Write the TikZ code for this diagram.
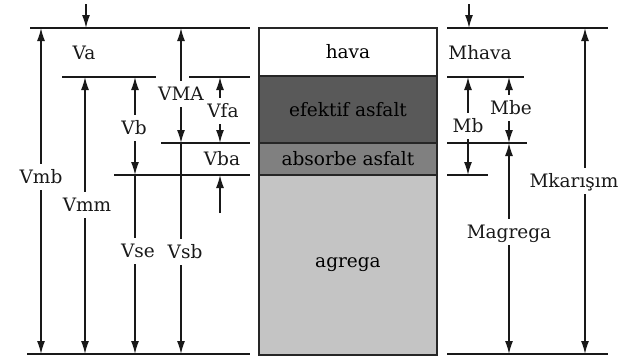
\documentclass[tikz,border=0pt]{standalone}
\usepackage{fontspec}
\setmainfont{DejaVu Serif}
\usetikzlibrary{arrows.meta}
\begin{document}
\begin{tikzpicture}[x=1pt,y=-1pt,
  ln/.style={line width=1.8pt, draw=black!90},
  dim/.style={line width=1.5pt, draw=black!90},
  tip/.style={-{Latex[length=13pt,width=8pt]}},
  lbl/.style={font=\fontsize{18.5}{20}\selectfont, inner sep=0pt, text height=13pt, text depth=0pt, minimum height=26pt, text=black!90},
  layer/.style={draw=black!85, line width=1.9pt, minimum width=178pt, font=\fontsize{18.5}{20}\selectfont, inner sep=0pt}]
\useasboundingbox (0,0) rectangle (633,359);

% ---------- layers ----------
\node[layer, fill=white, minimum height=48pt] (hava) at (348,52) {hava};
\node[layer, fill=black!65, minimum height=67pt] (efa) at (348,109.5) {efektif asfalt};
\node[layer, fill=black!50, minimum height=32pt] (aba) at (348,159) {absorbe asfalt};
\node[layer, fill=black!23, minimum height=180pt] (agr) at (348,265) {agrega};

% ---------- left horizontal lines ----------
\coordinate (h1a) at (30,28);  \coordinate (h1b) at (250,28);
\coordinate (h2a) at (62,77);  \coordinate (h2b) at (156,77);
\coordinate (h3a) at (189,77); \coordinate (h3b) at (250,77);
\coordinate (h4a) at (161,143);\coordinate (h4b) at (250,143);
\coordinate (h5a) at (114,175);\coordinate (h5b) at (250,175);
\coordinate (h6a) at (27,354); \coordinate (h6b) at (250,354);
\foreach \a/\b in {h1a/h1b,h2a/h2b,h3a/h3b,h4a/h4b,h5a/h5b,h6a/h6b}
  \draw[ln] (\a) -- (\b);

% ---------- right horizontal lines ----------
\coordinate (r1a) at (447,28);  \coordinate (r1b) at (608,28);
\coordinate (r2a) at (447,77);  \coordinate (r2b) at (524,77);
\coordinate (r3a) at (447,143); \coordinate (r3b) at (527,143);
\coordinate (r4a) at (447,175); \coordinate (r4b) at (488,175);
\coordinate (r5a) at (447,354); \coordinate (r5b) at (608,354);
\foreach \a/\b in {r1a/r1b,r2a/r2b,r3a/r3b,r4a/r4b,r5a/r5b}
  \draw[ln] (\a) -- (\b);

% ---------- top arrows ----------
\coordinate (tlA) at (86,4);  \coordinate (tlB) at (86,28);
\coordinate (trA) at (469,4); \coordinate (trB) at (469,28);
\draw[dim,tip] (tlA) -- (tlB);
\draw[dim,tip] (trA) -- (trB);

% ---------- left labels ----------
\node[lbl] (Va)  at (84,53)  {Va};
\node[lbl] (Vmb) at (41,177) {Vmb};
\node[lbl] (Vmm) at (87,205) {Vmm};
\node[lbl] (Vb)  at (134,128) {Vb};
\node[lbl] (Vse) at (138,251) {Vse};
\node[lbl] (VMA) at (181,94) {VMA};
\node[lbl] (Vsb) at (185,252) {Vsb};
\node[lbl] (Vfa) at (223,111) {Vfa};
\node[lbl] (Vba) at (222,159) {Vba};

% ---------- left dimension lines ----------
\coordinate (vmbT) at (41,28);  \coordinate (vmbB) at (41,354);
\draw[dim,tip] (Vmb.north -| vmbT) -- (vmbT);
\draw[dim,tip] (Vmb.south -| vmbT) -- (vmbB);

\coordinate (vmmT) at (85,77);  \coordinate (vmmB) at (85,354);
\draw[dim,tip] (Vmm.north -| vmmT) -- (vmmT);
\draw[dim,tip] (Vmm.south -| vmmT) -- (vmmB);

\coordinate (vbT) at (135,77);  \coordinate (vbB) at (135,175);
\draw[dim,tip] (Vb.north -| vbT) -- (vbT);
\draw[dim,tip] (Vb.south -| vbT) -- (vbB);

\coordinate (vseB) at (135,354);
\draw[dim] (vbB) -- (Vse.north -| vbB);
\draw[dim,tip] (Vse.south -| vbB) -- (vseB);

\coordinate (vmaT) at (181,28); \coordinate (vmaB) at (181,143);
\draw[dim,tip] (VMA.north -| vmaT) -- (vmaT);
\draw[dim,tip] (VMA.south -| vmaT) -- (vmaB);

\coordinate (vsbB) at (181,354);
\draw[dim] (vmaB) -- (Vsb.north -| vmaB);
\draw[dim,tip] (Vsb.south -| vmaB) -- (vsbB);

\coordinate (vfaT) at (220,77); \coordinate (vfaB) at (220,143);
\draw[dim,tip] (Vfa.north -| vfaT) -- (vfaT);
\draw[dim,tip] (Vfa.south -| vfaT) -- (vfaB);

\coordinate (vbaS) at (220,213); \coordinate (vbaE) at (220,175);
\draw[dim,tip] (vbaS) -- (vbaE);

% ---------- right labels ----------
\node[lbl] (Mhava) at (480,53) {Mhava};
\node[lbl] (Mb)    at (468,126) {Mb};
\node[lbl] (Mbe)   at (511,108) {Mbe};
\node[lbl] (Magr)  at (509,232) {Magrega};
\node[lbl] (Mkar)  at (574,181) {Mkarışım};

% ---------- right dimension lines ----------
\coordinate (mbT) at (468,77); \coordinate (mbB) at (468,175);
\draw[dim,tip] (Mb.north -| mbT) -- (mbT);
\draw[dim,tip] (Mb.south -| mbT) -- (mbB);

\coordinate (mbeT) at (509,77); \coordinate (mbeB) at (509,143);
\draw[dim,tip] (Mbe.north -| mbeT) -- (mbeT);
\draw[dim,tip] (Mbe.south -| mbeT) -- (mbeB);

\coordinate (magB) at (509,354);
\draw[dim,tip] (Magr.north -| mbeT) -- (mbeB);
\draw[dim,tip] (Magr.south -| mbeT) -- (magB);

\coordinate (mkT) at (585,28); \coordinate (mkB) at (585,354);
\draw[dim,tip] (Mkar.north -| mkT) -- (mkT);
\draw[dim,tip] (Mkar.south -| mkT) -- (mkB);
\end{tikzpicture}
\end{document}
